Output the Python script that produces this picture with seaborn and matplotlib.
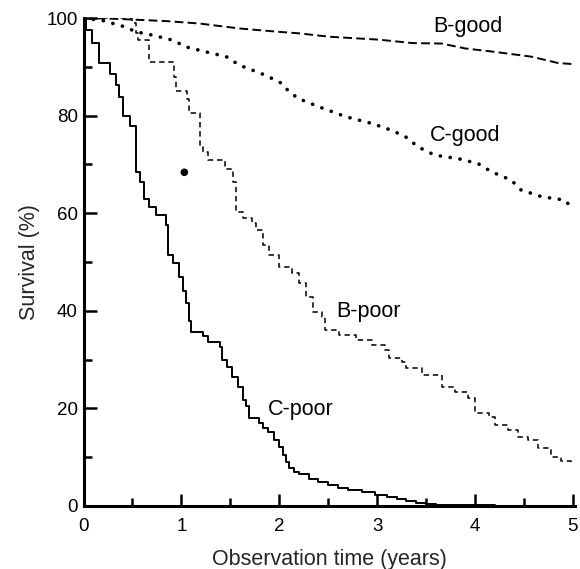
import numpy as np
import pandas as pd
import seaborn as sns
import matplotlib.pyplot as plt
from matplotlib.ticker import MultipleLocator

# Kaplan-Meier style survival curves
# C-poor: step curve (time of drop, survival after drop)
c_poor_t = [0, 0.025, 0.085, 0.16, 0.27, 0.33, 0.365, 0.405, 0.47, 0.535, 0.575, 0.615,
            0.67, 0.745, 0.84, 0.865, 0.915, 0.98, 1.02, 1.05, 1.08, 1.10, 1.22, 1.27,
            1.39, 1.42, 1.47, 1.52, 1.575, 1.625, 1.66, 1.69, 1.79, 1.83, 1.89, 1.95,
            2.0, 2.04, 2.07, 2.10, 2.15, 2.2, 2.3, 2.4, 2.5, 2.6, 2.7, 2.85, 2.98, 3.1,
            3.2, 3.3, 3.4, 3.5, 3.6, 4.2]
c_poor_s = [100, 97.5, 95, 90.8, 88.5, 86.3, 83.9, 80, 77.9, 68.5, 66.5, 63,
            61.3, 59.6, 57.6, 51.4, 49.8, 47, 44, 41.6, 38, 35.7, 34.8, 33.7,
            32.6, 30, 28.5, 26.5, 24.4, 21.7, 20.5, 18, 17, 15.9, 15.2, 13.5,
            12, 10.5, 9, 7.7, 7, 6.5, 5.5, 4.8, 4.2, 3.7, 3.3, 2.8, 2.3, 1.9,
            1.5, 1.0, 0.6, 0.3, 0.2, 0]

# B-poor: step curve
b_poor_t = [0, 0.50, 0.54, 0.56, 0.67, 0.92, 0.94, 1.06, 1.08, 1.19, 1.22, 1.27, 1.45,
            1.53, 1.56, 1.63, 1.72, 1.76, 1.83, 1.90, 2.0, 2.13, 2.2, 2.27, 2.34, 2.44,
            2.47, 2.61, 2.78, 2.95, 3.08, 3.12, 3.25, 3.30, 3.46, 3.66, 3.80, 3.93,
            4.0, 4.14, 4.20, 4.34, 4.44, 4.54, 4.64, 4.78, 4.88, 4.98]
b_poor_s = [100, 99, 97, 95.5, 91, 88, 85, 83.5, 80.5, 73.6, 72.5, 70.9, 69,
            66.5, 60.3, 59, 58, 56.5, 53.5, 51.5, 49, 47.7, 45.6, 42.9, 39.8, 38.8,
            36.1, 35, 34, 33, 32, 30.3, 29.6, 28.2, 26.8, 24.4, 23.4, 22.1,
            19, 18.3, 16.6, 15.6, 14.2, 13.5, 11.8, 10.1, 9.1, 8.7]

# B-good: dashed, nearly smooth
b_good_t = [0, 0.3, 0.85, 1.19, 1.59, 2.0, 2.2, 2.51, 3.02, 3.36, 3.66, 3.90, 4.20,
            4.58, 4.85, 5.0]
b_good_s = [100, 99.9, 99.4, 98.9, 97.9, 97.2, 96.9, 96.2, 95.6, 94.9, 94.8, 93.8,
            93.1, 92.1, 90.8, 90.6]

# C-good: dotted, nearly smooth
c_good_t = [0, 0.2, 0.41, 0.54, 0.71, 0.91, 1.05, 1.25, 1.46, 1.59, 1.86, 2.03, 2.10,
            2.2, 2.41, 2.68, 2.95, 3.15, 3.29, 3.42, 3.59, 3.83, 4.03, 4.17, 4.37,
            4.47, 4.68, 4.92, 4.95]
c_good_s = [100, 99.5, 98.3, 97.2, 96.5, 95.5, 94.1, 93.1, 92.1, 90.4, 88.3, 86.6,
            84.9, 83.5, 81.8, 79.8, 78.4, 77, 75.7, 73.6, 71.9, 71.2, 70.2, 68.5,
            66.8, 64.8, 63.4, 62.7, 62]

# curve labels and their positions (data coords)
labels = ["B-good", "C-good", "B-poor", "C-poor"]
label_x = [3.93, 3.90, 2.91, 2.22]
label_y = [98.2, 76.0, 39.8, 19.7]

# stray blob in the scanned figure
blob_x = [1.03]
blob_y = [68.4]

sns.set_style("ticks")
plt.rcParams['font.family'] = ['Liberation Sans', 'DejaVu Sans']

fig = plt.figure(figsize=(5.8, 5.69), dpi=100)
ax = fig.add_axes([0.144, 0.111, 0.847, 0.857])

df_bg = pd.DataFrame({"t": b_good_t, "s": b_good_s})
df_cg = pd.DataFrame({"t": c_good_t, "s": c_good_s})
df_bp = pd.DataFrame({"t": b_poor_t, "s": b_poor_s})
df_cp = pd.DataFrame({"t": c_poor_t, "s": c_poor_s})

sns.lineplot(data=df_bg, x="t", y="s", ax=ax, color="black", lw=1.4,
             linestyle=(0, (4.5, 2.2)), estimator=None, sort=False)
sns.lineplot(data=df_cg, x="t", y="s", ax=ax, color="black", lw=2.6,
             linestyle=(0, (0.05, 2.7)), dash_capstyle="round",
             estimator=None, sort=False)
sns.lineplot(data=df_bp, x="t", y="s", ax=ax, color="black", lw=1.1,
             linestyle=(0, (3.5, 2.5)), drawstyle="steps-post",
             estimator=None, sort=False)
sns.lineplot(data=df_cp, x="t", y="s", ax=ax, color="black", lw=1.4,
             drawstyle="steps-post", estimator=None, sort=False)
sns.scatterplot(x=blob_x, y=blob_y, ax=ax, color="black", s=30, edgecolor="none")

for lab, lx, ly in zip(labels, label_x, label_y):
    ax.text(lx, ly, lab, fontsize=15.5, ha="center", va="center", color="black")

ax.set_xlim(0, 5.02)
ax.set_ylim(0, 100)
ax.xaxis.set_major_locator(MultipleLocator(1))
ax.xaxis.set_minor_locator(MultipleLocator(0.5))
ax.yaxis.set_major_locator(MultipleLocator(20))
ax.yaxis.set_minor_locator(MultipleLocator(10))
ax.tick_params(which="both", direction="in", width=1.8, colors="black",
               labelsize=13.5)
ax.tick_params(which="major", length=9)
ax.tick_params(which="minor", length=5.5)
ax.tick_params(axis="x", pad=9)
ax.tick_params(axis="y", pad=4)

sns.despine(ax=ax)
ax.spines["left"].set_linewidth(2.2)
ax.spines["bottom"].set_linewidth(2.2)
ax.spines["left"].set_color("black")
ax.spines["bottom"].set_color("black")

ax.set_xlabel("Observation time (years)", fontsize=15.5, labelpad=10)
ax.set_ylabel("Survival (%)", fontsize=15.5, labelpad=5)

fig.savefig("out.png", dpi=100)
